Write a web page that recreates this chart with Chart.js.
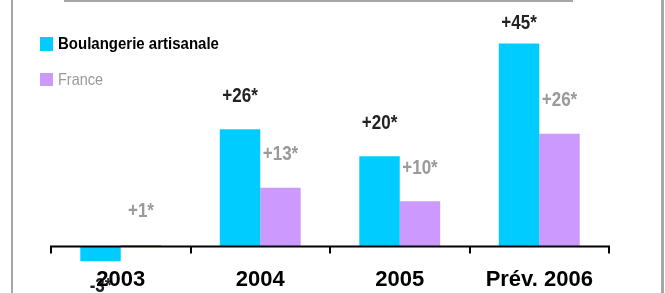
<!DOCTYPE html>
<html>
<head>
<meta charset="utf-8">
<script src="https://cdn.jsdelivr.net/npm/chart.js@4"></script>
<style>
    html, body { margin: 0; padding: 0; background: #fff; }
    #wrap { position: relative; width: 665px; height: 293px; overflow: hidden; }
    .line { position: absolute; background: #a6a6a6; }
</style>
</head>
<body>
<div id="wrap">
    <canvas id="croissance"></canvas>
    <div class="line" style="left:11px; top:0; width:2px; height:293px;"></div>
    <div class="line" style="left:661px; top:0; width:3px; height:293px;"></div>
    <div class="line" style="left:64px; top:0; width:509px; height:2px;"></div>
</div>
<script>
const annees = ['2003', '2004', '2005', 'Prév. 2006'];
const seriesNoms = ['Boulangerie artisanale', 'France'];
const boulangerie = [-3.3, 26, 20, 45];
const france = [0.35, 13, 10, 25];
const boulangerieTextes = ['-3*', '+26*', '+20*', '+45*'];
const franceTextes = ['+1*', '+13*', '+10*', '+26*'];

const couleurs = ['#00ccff', '#cc99ff'];
const couleursTextes = ['#222222', '#9a9a9a'];
const textes = [boulangerieTextes, franceTextes];

const police = '"Liberation Sans", Arial, sans-serif';

// texte un peu étiré en hauteur, comme dans l'original
const texteEtire = (ctx, t, x, y) => {
    ctx.save();
    ctx.translate(x, y);
    ctx.scale(1, 1.15);
    ctx.fillText(t, 0, 0);
    ctx.restore();
};

// étiquettes de valeurs et légende, dessinées sous les années
const etiquettes = {
    id: 'etiquettes',
    beforeDraw(chart) {
        const ctx = chart.ctx;
        ctx.save();
        ctx.textAlign = 'center';
        ctx.textBaseline = 'middle';
        ctx.font = 'bold 17px ' + police;
        chart.data.datasets.forEach((ds, di) => {
            const meta = chart.getDatasetMeta(di);
            meta.data.forEach((bar, i) => {
                const v = ds.data[i];
                const yy = v >= 0 ? Math.max(bar.y - 33, 24) : bar.y + 25;
                ctx.fillStyle = couleursTextes[di];
                texteEtire(ctx, textes[di][i], bar.x, yy);
            });
        });

        // légende
        ctx.textAlign = 'left';
        ctx.fillStyle = couleurs[0];
        ctx.fillRect(40, 37, 13, 14);
        ctx.fillStyle = couleurs[1];
        ctx.fillRect(40, 73, 13, 13);
        ctx.font = 'bold 15px ' + police;
        ctx.fillStyle = '#000';
        texteEtire(ctx, chart.data.datasets[0].label, 58, 44);
        ctx.font = '14.5px ' + police;
        ctx.fillStyle = '#999999';
        texteEtire(ctx, chart.data.datasets[1].label, 58, 80);
        ctx.restore();
    }
};

// axe horizontal au niveau zéro
const axeZero = {
    id: 'axeZero',
    afterDatasetsDraw(chart) {
        const {ctx, chartArea, scales: {y}} = chart;
        const y0 = y.getPixelForValue(0);
        const pas = (chartArea.right - chartArea.left) / annees.length;
        ctx.save();
        ctx.strokeStyle = '#000';
        ctx.lineWidth = 2;
        ctx.beginPath();
        ctx.moveTo(chartArea.left, y0);
        ctx.lineTo(chartArea.right, y0);
        for (let i = 0; i <= annees.length; i++) {
            const xx = Math.round(chartArea.left + i * pas);
            ctx.moveTo(xx, y0 - 1);
            ctx.lineTo(xx, y0 + 7);
        }
        ctx.stroke();
        ctx.restore();
    }
};

const data = {
    labels: annees,
    datasets: [
        { label: seriesNoms[0], data: boulangerie, backgroundColor: couleurs[0] },
        { label: seriesNoms[1], data: france, backgroundColor: couleurs[1] }
    ]
};

document.addEventListener('DOMContentLoaded', () => {
    new Chart(document.getElementById('croissance'), {
        type: 'bar',
        data: data,
        options: {
            responsive: true,
            maintainAspectRatio: false,
            animation: false,
            layout: { padding: { left: 51, right: 56, top: 21, bottom: 2 } },
            datasets: { bar: { barPercentage: 1, categoryPercentage: 0.58 } },
            plugins: { legend: { display: false }, tooltip: { enabled: false } },
            scales: {
                x: {
                    grid: { display: false, drawTicks: false },
                    border: { display: false },
                    ticks: {
                        padding: 0,
                        color: '#000',
                        font: { family: police, size: 22, weight: 'bold', lineHeight: 1 }
                    }
                },
                y: { display: false, min: -5, max: 50 }
            }
        },
        plugins: [etiquettes, axeZero]
    });
});
</script>
</body>
</html>
